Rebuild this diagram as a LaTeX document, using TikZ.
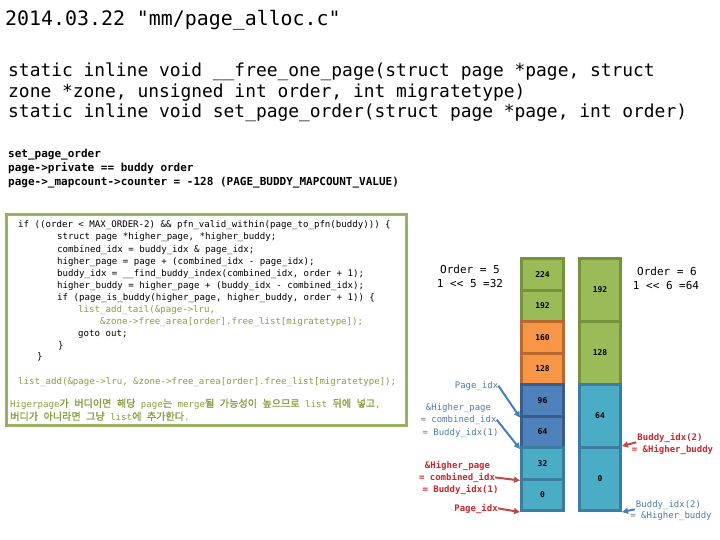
\documentclass[tikz,border=0pt]{standalone}
\usepackage{fontspec}
\setmonofont{DejaVu Sans Mono}
\newfontfamily\kr{Noto Sans CJK KR}[FakeBold=1.5]
\usetikzlibrary{arrows.meta}
\definecolor{boxgreen}{HTML}{9BB062}
\definecolor{txtolive}{HTML}{86A040}
\definecolor{gfill}{HTML}{9BBB59}
\definecolor{gdraw}{HTML}{76923C}
\definecolor{ofill}{HTML}{F79646}
\definecolor{odraw}{HTML}{B9692F}
\definecolor{bfill}{HTML}{4F81BD}
\definecolor{bdraw}{HTML}{385D8A}
\definecolor{tfill}{HTML}{4BACC6}
\definecolor{tdraw}{HTML}{3A7D9E}
\definecolor{lblblue}{HTML}{4F7CAC}
\definecolor{lblred}{HTML}{C8282E}
\definecolor{arrblue}{HTML}{4A7EBB}
\definecolor{arrred}{HTML}{BE4B48}
\newcommand\K[1]{{\kr\fontsize{10.1}{12}\selectfont #1}}
\tikzset{
  titletxt/.style={anchor=base west, inner sep=0, font=\fontsize{19.9}{22}\selectfont\ttfamily},
  bigtxt/.style={anchor=base west, inner sep=0, font=\fontsize{17.9}{20}\selectfont\ttfamily},
  smalltxt/.style={anchor=base west, inner sep=0, font=\fontsize{11}{13}\selectfont\ttfamily\bfseries},
  codeln/.style={anchor=base west, inner sep=0, font=\fontsize{9.1}{11}\selectfont\ttfamily},
  oliveln/.style={codeln, text=txtolive},
  cell/.style={draw, line width=3pt, minimum width=42pt, minimum height=31.5pt, inner sep=0,
    font=\fontsize{8}{9}\selectfont\bfseries\ttfamily},
  cellw/.style={cell, minimum width=41pt, minimum height=63pt},
  gcell/.style={fill=gfill, draw=gdraw},
  ocell/.style={fill=ofill, draw=odraw},
  bcell/.style={fill=bfill, draw=bdraw},
  tcell/.style={fill=tfill, draw=tdraw},
  lbl/.style={anchor=base, inner sep=0, font=\fontsize{9}{10}\selectfont\ttfamily},
  rlbl/.style={lbl, text=lblred, font=\fontsize{9}{10}\selectfont\ttfamily\bfseries},
  blbl/.style={lbl, text=lblblue},
  ordlbl/.style={anchor=base, inner sep=0, font=\fontsize{11}{13}\selectfont\ttfamily},
  barrow/.style={draw=arrblue, line width=2pt, -{Triangle[length=6pt,width=6pt]}},
  rarrow/.style={draw=arrred, line width=2pt, -{Triangle[length=6pt,width=6pt]}}
}
\begin{document}
\begin{tikzpicture}[x=1pt,y=-1pt]
\useasboundingbox (0,0) rectangle (720,540);
\fill[white] (0,0) rectangle (720,540);

% title and prototypes
\node[titletxt] (title) at (5,26) {2014.03.22 "mm/page\_alloc.c"};
\node[bigtxt] (p1) at (8,77) {static inline void \_\_free\_one\_page(struct page *page, struct};
\node[bigtxt] (p2) at (8,97.5) {zone *zone, unsigned int order, int migratetype)};
\node[bigtxt] (p3) at (8,118) {static inline void set\_page\_order(struct page *page, int order)};

\node[smalltxt] (s1) at (8,158) {set\_page\_order};
\node[smalltxt] (s2) at (8,172) {page->private == buddy order};
\node[smalltxt] (s3) at (8,186) {page->\_mapcount->counter = -128 (PAGE\_BUDDY\_MAPCOUNT\_VALUE)};

% code box
\draw[boxgreen, line width=3pt] (6.5,214.5) rectangle (406.5,425.5);
\node[codeln] (c1) at (18,228) {if ((order < MAX\_ORDER-2) \&\& pfn\_valid\_within(page\_to\_pfn(buddy))) \{};
\node[codeln] (c2) at (57,240) {struct page *higher\_page, *higher\_buddy;};
\node[codeln] (c3) at (57,252) {combined\_idx = buddy\_idx \& page\_idx;};
\node[codeln] (c4) at (57,264) {higher\_page = page + (combined\_idx - page\_idx);};
\node[codeln] (c5) at (57,276) {buddy\_idx = \_\_find\_buddy\_index(combined\_idx, order + 1);};
\node[codeln] (c6) at (57,288) {higher\_buddy = higher\_page + (buddy\_idx - combined\_idx);};
\node[codeln] (c7) at (57,300) {if (page\_is\_buddy(higher\_page, higher\_buddy, order + 1)) \{};
\node[oliveln] (c8) at (78,312) {list\_add\_tail(\&page->lru,};
\node[oliveln] (c9) at (100,324) {\&zone->free\_area[order].free\_list[migratetype]);};
\node[codeln] (c10) at (78,336) {goto out;};
\node[codeln] (c11) at (58,348) {\}};
\node[codeln] (c12) at (37,359) {\}};
\node[oliveln] (c13) at (18,384) {list\_add(\&page->lru, \&zone->free\_area[order].free\_list[migratetype]);};
\node[oliveln] (k1) at (10,407) {Higerpage\K{가} \K{버디이면} \K{해당} page\K{는} merge\K{될} \K{가능성이} \K{높으므로} list \K{뒤에} \K{넣고},};
\node[oliveln] (k2) at (10,420) {\K{버디가} \K{아니라면} \K{그냥} list\K{에} \K{추가한다}.};

% order labels
\node[ordlbl] (o5a) at (470,273.5) {Order = 5};
\node[ordlbl] (o5b) at (470,287) {1 << 5 =32};
\node[ordlbl] (o6a) at (667,275) {Order = 6};
\node[ordlbl] (o6b) at (666,289) {1 << 6 =64};

% column of order-5 blocks
\node[cell, gcell] (a224) at (542.5,274.25) {224};
\node[cell, gcell] (a192) at (542.5,305.75) {192};
\node[cell, ocell] (a160) at (542.5,337.25) {160};
\node[cell, ocell] (a128) at (542.5,368.75) {128};
\node[cell, bcell] (a96)  at (542.5,400.25) {96};
\node[cell, bcell] (a64)  at (542.5,431.75) {64};
\node[cell, tcell] (a32)  at (542.5,463.25) {32};
\node[cell, tcell] (a0)   at (542.5,494.75) {0};

% column of order-6 blocks
\node[cellw, gcell] (b192) at (600,290) {192};
\node[cellw, gcell] (b128) at (600,353) {128};
\node[cellw, tcell] (b64)  at (600,416) {64};
\node[cellw, tcell] (b0)   at (600,479) {0};

% blue labels
\node[blbl] (bpi) at (476.5,388) {Page\_idx};
\node[blbl] (bh1) at (458.5,410) {\&Higher\_page};
\node[blbl] (bh2) at (458.5,422) {= combined\_idx};
\node[blbl] (bh3) at (460.5,435) {= Buddy\_idx(1)};
\draw[barrow] (bpi.east) -- (a96.south west);
\draw[barrow] (bh2.east) -- (a64.south west);

% red labels
\node[rlbl] (rh1) at (457.5,468) {\&Higher\_page};
\node[rlbl] (rh2) at (457,480) {= combined\_idx};
\node[rlbl] (rh3) at (460.5,492) {= Buddy\_idx(1)};
\node[rlbl] (rpi) at (476,511) {Page\_idx};
\draw[rarrow] (rh2.east) -- (a32.south west);
\draw[rarrow] (rpi.east) -- (a0.south west);

% right labels
\node[rlbl] (rr1) at (670,440) {Buddy\_idx(2)};
\node[rlbl] (rr2) at (672.5,452) {= \&Higher\_buddy};
\draw[rarrow] ([xshift=-1pt]rr1.south west) -- ([yshift=3pt]b64.south east);
\node[blbl] (br1) at (668.5,507) {Buddy\_idx(2)};
\node[blbl] (br2) at (671,518) {= \&Higher\_buddy};
\draw[barrow] ([xshift=-1pt]br1.south west) -- (b0.south east);
\end{tikzpicture}
\end{document}
